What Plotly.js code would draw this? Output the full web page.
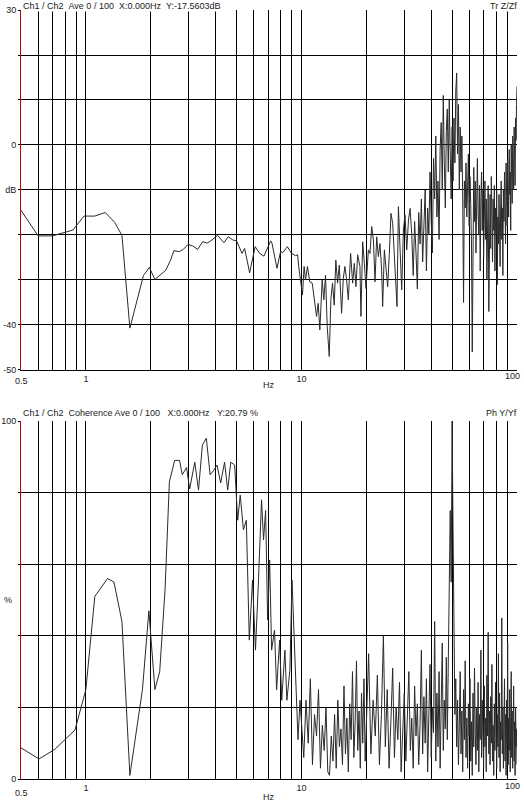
<!DOCTYPE html>
<html><head><meta charset="utf-8">
<script src="https://cdn.plot.ly/plotly-3.0.1.min.js"></script>
<style>html,body{margin:0;padding:0;background:#fff}#chart{width:524px;height:803px}</style>
</head><body><div id="chart"></div>
<script>
// ---- Top: transfer function (dB) ----
const topFreqA = [0.5,0.6,0.7,0.8,0.87,0.98,1.1,1.23,1.36,1.47,1.6,1.85,1.97,2.09,2.35,2.47,2.56,2.71,2.83,2.98,
3.12,3.3,3.48,3.65,3.8,4.08,4.37,4.58,4.8,5.0,5.3,5.45,5.75,6.1,6.4,6.7,7.2,7.3,7.7,8.0,8.2,8.6,9.0,9.4,9.6,
9.71,9.93,10.11,10.29,10.44,10.66,10.93,11.22,11.46,11.75,11.96,12.17,12.48,12.7,12.93,13.17,13.46,13.69,13.94,14.19,
14.44,14.71,14.98,15.36,15.64,15.91,16.2,16.5,16.91,17.28,17.59,17.9,18.23,18.68,18.88,19.23,19.58,19.92,20.44,20.8,
21.18,21.57,21.94,22.34,22.75,23.14,23.56,23.81,24.25,24.67,25.12,25.58,26.02,26.5,26.99,27.37,27.75,28.17,28.66,29.18,
29.72,30.24,30.8,31.37,31.92];
const topDbA = [-14.5,-20.2,-20.2,-19.4,-18.9,-15.8,-15.8,-15.0,-17.2,-20.1,-40.7,-29.0,-27.2,-29.9,-27.8,-25.6,-23.5,-23.7,-23.2,-22.1,
-22.4,-23.2,-21.5,-21.8,-21.3,-20.1,-21.7,-20.4,-21.1,-21.3,-24.1,-23.0,-28.4,-22.6,-24.1,-24.7,-21.3,-21.8,-27.4,-23.7,-23.9,-22.6,-24.1,-24.6,-24.4,
-27,-30.4,-33.3,-27,-30,-27,-30.4,-30.7,-34.1,-38.1,-35.2,-41.1,-30,-34.4,-28.9,-40.4,-47,-34.4,-30.7,-35.6,
-25.6,-30.7,-26.7,-37.4,-29.6,-27,-30,-34.4,-24.1,-30.7,-26.3,-31.5,-24.4,-27,-38.1,-21.5,-26.3,-31.9,-23.3,-24.1,
-18.1,-21.1,-30.4,-20.4,-24.8,-21.9,-27.8,-35.9,-23.3,-27,-31.5,-24.1,-15.2,-17.4,-25.6,-30.7,-35.9,-13.7,-22.6,-32.2,
-18.9,-15.6,-23.3,-16.7,-14.1];
const topFreqB = [32.5,33,33.5,34,34.5,35,35.5,36,36.5,37,37.5,38,38.5,39,39.5,40,40.5,41,41.5,42,42.5,43,43.5,44,44.5,45,45.5,46,46.5,47,47.5,48,48.5,49,49.5,50,
50.5,51,51.5,52,52.5,53,53.5,54,54.5,55,55.5,56,56.5,57,57.5,58,58.5,59,59.5,60,
60.5,61,61.5,62,62.5,63,63.5,64,64.5,65,65.5,66,66.5,67,67.5,68,68.5,69,69.5,70,
70.5,71,71.5,72,72.5,73,73.5,74,74.5,75,75.5,76,76.5,77,77.5,78,78.5,79,79.5,80,
80.5,81,81.5,82,82.5,83,83.5,84,84.5,85,85.5,86,86.5,87,87.5,88,88.5,89,89.5,90,
90.5,91,91.5,92,92.5,93,93.5,94,94.5,95,95.5,96,96.5,97,97.5,98,98.5,99,99.5,100];
const topDbB = [-20,-29,-17,-24,-32,-15,-22,-12,-26,-18,-10,-28,-14,-20,-6,-17,-24,-3,-12,2,-16,-8,-21,-1,5,-10,11,-4,-14,3,8,-6,10,-2,-12,4,
-8,6,-4,12,16,-2,9,-10,4,-6,2,-12,-35,-8,-14,-4,-16,-9,-2,-18,
-7,-13,-22,-46,-10,-5,-17,-8,-24,-11,-3,-15,-20,-9,-28,-12,-6,-19,-10,-25,
-14,-8,-21,-12,-30,-16,-9,-37,-18,-11,-23,-7,-15,-26,-12,-19,-9,-28,-14,-20,
-10,-31,-16,-22,-11,-18,-27,-13,-8,-21,-14,-29,-10,-17,-6,-15,-22,-4,-12,-18,
-3,-9,-16,-1,-11,-6,-19,0,-8,-13,2,-5,-10,4,-3,-9,6,1,9,13];

// ---- Bottom: coherence (%) ----
const cohFreqA = [0.5,0.606,0.718,0.77,0.89,1.0,1.1,1.26,1.35,1.47,1.6,1.83,1.96,2.09,2.2,2.33,2.44,2.58,2.72,2.8,
2.93,3.03,3.2,3.33,3.47,3.62,3.77,3.93,4.06,4.22,4.4,4.55,4.7,4.9,5.06,5.2,5.38,5.55,5.73,5.93,
6.12,6.32,6.53,6.67,6.82,6.97,7.12,7.27,7.5,7.67,7.92,8.1,8.38,8.56,8.84,9.04,9.23,9.43,9.64,9.85];
const cohPctA = [8.7,5.6,8.3,10,13.7,25,51,56,55,44,1,25,47,25,30,53,83,89,89,85,
87,81,88.5,80.7,93.3,95.2,85,86.3,87.7,82.7,88.5,80.7,88.5,87.7,72.3,79.3,69.6,72.3,38.8,55.6,
36,55.6,78,66.8,75,44.4,61.2,36,41.6,24.9,38.8,22,36,22,30.4,55.6,41.6,22,11,22];
const cohFreqB = [10.25,10.5,10.75,11,11.25,11.5,11.75,12,12.25,12.5,12.75,13,13.25,13.5,13.75,14,14.25,14.5,14.75,15,
15.25,15.5,15.75,16,16.25,16.5,16.75,17,17.25,17.5,17.75,18,18.25,18.5,18.75,19,19.25,19.5,19.75,20];
const cohPctB = [6,22,10,28,4,18,12,25,3,15,8,20,2,1,12,5,18,3,22,9,
14,4,26,7,17,2,21,11,30,6,16,33,8,19,3,24,10,28,5,15];
const cohFreqC = [20.5,21,21.5,22,22.5,23,23.5,24,24.5,25,25.5,26,26.5,27,27.5,28,28.5,29,29.5,30,
30.5,31,31.5,32,32.5,33,33.5,34,34.5,35,35.5,36,36.5,37,37.5,38,38.5,39,39.5,40,
40.5,41,41.5,42,42.5,43,43.5,44,44.5,45,45.5,46,46.5,47,47.5,48,48.5,49,49.5,50,
50.5,51,51.5,52,52.5,53,53.5,54,54.5,55,55.5,56,56.5,57,57.5,58,58.5,59,59.5,60,
60.5,61,61.5,62,62.5,63,63.5,64,64.5,65,65.5,66,66.5,67,67.5,68,68.5,69,69.5,70,
70.5,71,71.5,72,72.5,73,73.5,74,74.5,75,75.5,76,76.5,77,77.5,78,78.5,79,79.5,80,
80.5,81,81.5,82,82.5,83,83.5,84,84.5,85,85.5,86,86.5,87,87.5,88,88.5,89,89.5,90,
90.5,91,91.5,92,92.5,93,93.5,94,94.5,95,95.5,96,96.5,97,97.5,98,98.5,99,99.5,100];
const cohPctC = [35,7,22,12,29,4,18,40,9,25,3,16,31,6,20,11,27,2,14,24,
5,19,30,8,17,3,26,12,21,4,15,36,7,23,10,28,2,18,32,6,
20,13,44,5,24,9,30,3,17,38,8,22,14,34,11,40,48,75,55,100,
70,35,18,28,9,22,4,15,30,7,19,2,25,11,33,6,17,3,21,12,
28,5,16,1,24,9,31,14,4,20,8,27,2,18,11,36,6,22,13,3,
26,9,17,2,29,12,41,7,19,4,23,10,32,5,15,1,21,8,27,13,
3,18,9,35,6,24,2,16,11,45,7,20,3,14,28,5,18,1,22,10,
38,4,17,8,25,2,13,30,6,19,3,12,26,5,16,1,20,9,14,4];

// ---- axis tick labels ----
const xTickVals = [0.6,0.7,0.8,0.9,1,2,3,4,5,6,7,8,9,10,20,30,40,50,60,70,80,90,100];
const xTickText = ['','','','','1','','','','','','','','','10','','','','','','','','',''];
const yTopVals = [30,20,10,0,-10,-20,-30,-40,-50];
const yTopText = ['30','','','0','dB','','','-40','-50'];
const yBotVals = [0,20,40,60,80,100];
const yBotText = ['0','','','','','100'];

const font = {family:'"Liberation Sans", Arial, sans-serif', size:9, color:'#222'};
const lineStyle = {color:'#2a2a2a', width:1};

const traces = [
  {x: topFreqA.concat(topFreqB), y: topDbA.concat(topDbB), type:'scatter', mode:'lines', line:lineStyle, xaxis:'x', yaxis:'y', hoverinfo:'skip'},
  {x: cohFreqA.concat(cohFreqB, cohFreqC), y: cohPctA.concat(cohPctB, cohPctC), type:'scatter', mode:'lines', line:lineStyle, xaxis:'x2', yaxis:'y2', hoverinfo:'skip'}
];

function xAx(anchor){
  return {type:'log', range:[Math.log10(0.5), 2], anchor:anchor, tickmode:'array', tickvals:xTickVals, ticktext:xTickText,
    showgrid:true, gridcolor:'#000', gridwidth:1, showline:true, linecolor:'#000', linewidth:1, ticks:'', zeroline:false,
    tickfont:font, fixedrange:true, automargin:false};
}
function yAx(anchor, range, vals, text, domain){
  return {range:range, anchor:anchor, domain:domain, tickmode:'array', tickvals:vals, ticktext:text,
    showgrid:true, gridcolor:'#000', gridwidth:1, showline:true, linecolor:'#c00000', linewidth:1,
    ticks:'outside', ticklen:2, tickcolor:'#000', zeroline:false, tickfont:font, fixedrange:true, automargin:false};
}

const ann = (text, x, y, xa, extra) => Object.assign({text:text, x:x, y:y, xref:'paper', yref:'paper', xanchor:xa, yanchor:'middle',
  showarrow:false, font:font, bgcolor:'#fff', borderpad:0}, extra||{});
const clear = {bgcolor:'rgba(0,0,0,0)'};
const sp = '\u00a0';

const layout = {
  width:524, height:803,
  margin:{l:21, r:7, t:10, b:24, pad:0},
  paper_bgcolor:'#fff', plot_bgcolor:'#fff',
  showlegend:false,
  xaxis: xAx('y'),
  yaxis: yAx('x', [-50,30], yTopVals, yTopText, [0.5319,1]),
  xaxis2: xAx('y2'),
  yaxis2: yAx('x2', [0,100], yBotVals, yBotText, [0,0.4655]),
  annotations:[
    ann('Ch1 / Ch2'+sp+sp+'Ave 0 / 100'+sp+sp+'X:0.000Hz'+sp+sp+'Y:-17.5603dB'+sp+sp+sp, 0.002, 1.0052, 'left'),
    ann('Tr Z/Zf', 1.002, 1.0052, 'right'),
    ann('Ch1 / Ch2'+sp+sp+'Coherence Ave 0 / 100'+sp+sp+sp+'X:0.000Hz'+sp+sp+sp+'Y:20.79 %'+sp+sp, 0.002, 0.4759, 'left'),
    ann('Ph Y/Yf', 1.002, 0.4759, 'right'),
    ann('0.5', 0, 0.5176, 'center', clear),
    ann('0.5', 0, -0.0182, 'center', clear),
    ann('100', 0.99, 0.5241, 'center', clear),
    ann('100', 0.99, -0.0091, 'center', clear),
    ann('Hz', 0.5, 0.5124, 'center', clear),
    ann('Hz', 0.5, -0.0234, 'center', clear),
    ann('%', -0.026, 0.2328, 'center', clear)
  ]
};

Plotly.newPlot('chart', traces, layout, {staticPlot:true, displayModeBar:false});
</script></body></html>
